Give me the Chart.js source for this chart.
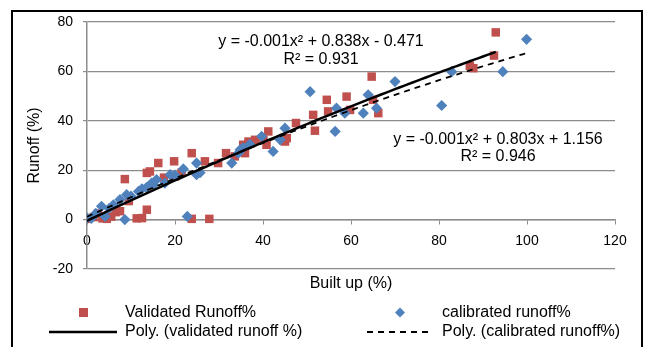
<!DOCTYPE html>
<html>
<head>
<meta charset="utf-8">
<script src="https://cdn.jsdelivr.net/npm/chart.js@4.4.1/dist/chart.umd.min.js"></script>
<style>
  html, body { margin: 0; padding: 0; background: #fff; }
  #wrap { width: 649px; height: 347px; }
</style>
</head>
<body>
<div id="wrap"><canvas id="runoffChart" width="649" height="347"></canvas></div>
<script>
// points
const validX = [0, 1.5, 2.5, 3.5, 4.5, 5.5, 6.5, 7.5, 8.6, 9.5, 11.3, 12.5, 13.6, 13.6, 14.3, 16.2, 17.5, 19.8, 20.0, 21.5,
  23.8, 23.8, 26.8, 27.8, 29.8, 31.6, 33.6, 35.9, 35.5, 36.7, 38.2, 40.1, 40.8, 41.2, 45.0, 45.4, 47.5, 51.4, 51.8, 54.5,
  54.8, 59.0, 59.8, 64.7, 65.0, 66.2, 87.0, 87.8, 92.5, 92.9];
const validY = [0.3, 1.0, 2.5, 0.5, 0.3, 1.2, 3.0, 3.4, 16.4, 7.5, 0.5, 0.6, 4.0, 18.9, 19.5, 22.9, 17.0, 23.6, 17.5, 19.0,
  26.9, 0.3, 23.6, 0.3, 22.9, 26.9, 25.6, 26.9, 30.3, 31.6, 32.3, 32.3, 30.3, 35.7, 31.6, 33.0, 39.1, 42.4, 36.0, 48.5,
  43.8, 49.8, 44.4, 57.9, 48.5, 43.1, 62.3, 61.3, 66.4, 75.8];

const calX = [0, 1, 2, 3.3, 4.1, 5, 6, 7.5, 8.6, 9, 10, 11.7, 12.5, 13.5, 14.7, 15.1, 15.8, 17.7, 18.9, 20, 21.9, 22.8,
  24.9, 24.9, 25.7, 32.9, 34.4, 34.8, 35.5, 37, 39.7, 42.3, 43.9, 45, 50.7, 56.4, 56.7, 58.6, 62.8, 63.9, 65.8, 70,
  80.6, 82.9, 94.5, 99.9];
const calY = [0.7, 0.5, 2.5, 5.4, 1.3, 4.5, 6, 8.1, 0, 10.1, 9.5, 11.4, 12.5, 13, 14.8, 14.1, 16.2, 14.8, 18.2, 18, 20.5, 1.3,
  22.9, 18.2, 19, 22.9, 26.9, 28.3, 29, 30.5, 33.7, 27.6, 32.3, 37, 51.8, 35.7, 45.1, 43.1, 43.1, 50.5, 45.1, 55.9,
  46.2, 59.9, 59.9, 73];

// trendline coefficients [c, b, a] for y = a x^2 + b x + c
const validFit = [-0.471, 0.838, -0.0011];
const calFit = [1.156, 0.803, -0.0014];
const validEq = ["y = -0.001x\u00B2 + 0.838x - 0.471", "R\u00B2 = 0.931"];
const calEq = ["y = -0.001x\u00B2 + 0.803x + 1.156", "R\u00B2 = 0.946"];

const xTicks = [0, 20, 40, 60, 80, 100, 120];
const yTicks = [-20, 0, 20, 40, 60, 80];

const FONT = '"Liberation Sans", Arial, sans-serif';
const RED = "#C0504D";
const BLUE = "#4F81BD";
const GRID = "#8c8c8c";

function pts(xs, ys) {
  return xs.map((x, i) => ({ x: x, y: ys[i] }));
}

function curve(fit, xs) {
  const hi = Math.max(...xs);
  const out = [];
  for (let x = 0; x <= hi; x += 1) out.push({ x: x, y: fit[0] + fit[1] * x + fit[2] * x * x });
  out.push({ x: hi, y: fit[0] + fit[1] * hi + fit[2] * hi * hi });
  return out;
}

const extras = {
  id: "extras",
  afterDraw(chart) {
    const ctx = chart.ctx;
    ctx.save();
    // outer frame
    ctx.strokeStyle = "#000";
    ctx.lineWidth = 2;
    ctx.strokeRect(12, 11, 630, 345);

    ctx.fillStyle = "#000";
    ctx.font = "16px " + FONT;
    ctx.textAlign = "center";
    ctx.textBaseline = "middle";
    ctx.fillText(validEq[0], 321, 42);
    ctx.fillText(validEq[1], 321, 60);
    ctx.fillText(calEq[0], 498, 140);
    ctx.fillText(calEq[1], 498, 157);

    // x title
    ctx.fillText("Built up (%)", 351, 284);

    // legend
    ctx.textAlign = "left";
    ctx.fillStyle = RED;
    ctx.fillRect(79, 308, 9, 9);
    ctx.fillStyle = BLUE;
    ctx.beginPath();
    ctx.moveTo(400, 307.5); ctx.lineTo(405, 312.5); ctx.lineTo(400, 317.5); ctx.lineTo(395, 312.5);
    ctx.closePath(); ctx.fill();

    ctx.strokeStyle = "#000";
    ctx.lineWidth = 2.5;
    ctx.beginPath(); ctx.moveTo(49, 332); ctx.lineTo(117, 332); ctx.stroke();
    ctx.lineWidth = 1.8;
    ctx.setLineDash([6, 5]);
    ctx.beginPath(); ctx.moveTo(367, 332); ctx.lineTo(430, 332); ctx.stroke();
    ctx.setLineDash([]);

    ctx.fillStyle = "#000";
    ctx.fillText("Validated Runoff%", 125, 313);
    ctx.fillText("Poly. (validated runoff %)", 125, 332);
    ctx.fillText("calibrated runoff%", 442, 313);
    ctx.fillText("Poly. (calibrated runoff%)", 442, 332);
    ctx.restore();
  }
};

new Chart(document.getElementById("runoffChart"), {
  type: "scatter",
  data: {
    datasets: [
      {
        label: "Poly. (validated runoff %)",
        data: curve(validFit, validX),
        showLine: true,
        borderColor: "#000",
        borderWidth: 2.5,
        pointRadius: 0,
        tension: 0,
        order: 1
      },
      {
        label: "Poly. (calibrated runoff%)",
        data: curve(calFit, calX),
        showLine: true,
        borderColor: "#000",
        borderWidth: 1.8,
        borderDash: [6, 5],
        pointRadius: 0,
        tension: 0,
        order: 1
      },
      {
        label: "calibrated runoff%",
        data: pts(calX, calY),
        pointStyle: "rectRot",
        pointRadius: 5.6,
        backgroundColor: BLUE,
        borderColor: BLUE,
        borderWidth: 0,
        order: 2
      },
      {
        label: "Validated Runoff%",
        data: pts(validX, validY),
        pointStyle: "rect",
        pointRadius: 6,
        backgroundColor: RED,
        borderColor: RED,
        borderWidth: 0,
        order: 3
      }
    ]
  },
  options: {
    responsive: false,
    animation: false,
    layout: { padding: { left: 20, top: 22, right: 34, bottom: 78 } },
    plugins: {
      legend: { display: false },
      tooltip: { enabled: false }
    },
    scales: {
      x: {
        type: "linear",
        position: { y: 0 },
        min: 0,
        max: 120,
        afterBuildTicks: s => { s.ticks = xTicks.map(v => ({ value: v })); },
        ticks: { color: "#000", font: { family: FONT, size: 14 }, padding: 9, maxRotation: 0 },
        grid: { drawOnChartArea: false, drawTicks: true, tickLength: 4, color: GRID },
        border: { display: true, color: GRID, width: 1.5 }
      },
      y: {
        min: -20,
        max: 80,
        afterBuildTicks: s => { s.ticks = yTicks.map(v => ({ value: v })); },
        afterFit: s => { s.width = 67; },
        ticks: { color: "#000", font: { family: FONT, size: 14 }, padding: 10 },
        grid: { color: GRID, lineWidth: 1.2, tickLength: 4 },
        border: { display: true, color: GRID, width: 1.5 },
        title: {
          display: true,
          text: "Runoff (%)",
          color: "#000",
          font: { family: FONT, size: 16 },
          padding: { top: 5, bottom: 0 }
        }
      }
    }
  },
  plugins: [extras]
});
</script>
</body>
</html>
